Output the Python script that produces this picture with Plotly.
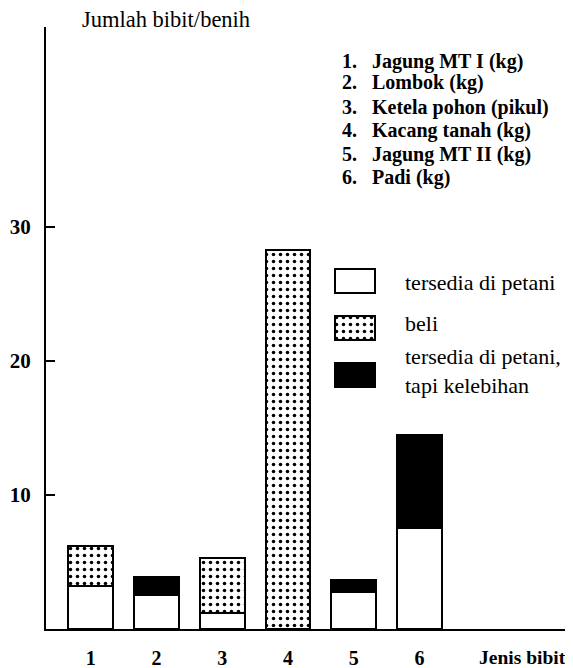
import plotly.graph_objects as go

# Data
categories = [1, 2, 3, 4, 5, 6]
tick_labels = ["1", "2", "3", "4", "5", "6"]
tersedia = [3.2, 2.5, 1.2, None, 2.75, 7.5]
beli = [3.0, None, 4.1, 28.3, None, None]
kelebihan = [None, 1.4, None, None, 0.9, 7.0]
crop_names = ["Jagung MT I (kg)", "Lombok (kg)", "Ketela pohon (pikul)",
              "Kacang tanah (kg)", "Jagung MT II (kg)", "Padi (kg)"]
legend_labels = ["tersedia di petani", "beli", "tersedia di petani,<br>tapi kelebihan"]
y_ticks = [10, 20, 30]

FONT = "Liberation Serif"
line = dict(color="black", width=2)
dots = dict(shape=".", fgcolor="black", bgcolor="white", size=7, solidity=0.2, fillmode="replace")

fig = go.Figure()
fig.add_trace(go.Bar(x=categories, y=tersedia, width=0.68, name="tersedia di petani",
                     marker=dict(color="white", line=line), showlegend=False))
fig.add_trace(go.Bar(x=categories, y=beli, width=0.68, name="beli",
                     marker=dict(color="white", line=line, pattern=dots), showlegend=False))
fig.add_trace(go.Bar(x=categories, y=kelebihan, width=0.68, name="tersedia di petani, tapi kelebihan",
                     marker=dict(color="black", line=line), showlegend=False))

# Legend swatches drawn as bars on a small auxiliary axis
swatch_styles = [dict(color="white", line=line),
                 dict(color="white", line=line, pattern=dots),
                 dict(color="black", line=line)]
for i, st in enumerate(swatch_styles):
    fig.add_trace(go.Bar(x=[1], y=[i], orientation="h", width=0.51,
                         xaxis="x2", yaxis="y2", showlegend=False, marker=st))

fig.update_layout(
    width=573, height=668,
    margin=dict(l=38, r=13, t=19, b=47),
    plot_bgcolor="white", paper_bgcolor="white",
    barmode="stack",
    font=dict(family=FONT, color="black", size=22),
    xaxis=dict(range=[0.32, 8.26], tickvals=categories, ticktext=tick_labels,
               showline=True, linecolor="black", linewidth=2, ticks="",
               showgrid=False, zeroline=False, ticklabelstandoff=10, automargin=False,
               tickfont=dict(family=FONT, size=20, color="black", weight="bold")),
    yaxis=dict(range=[0, 44.9], tickvals=y_ticks, showline=True, linecolor="black",
               linewidth=2, ticks="inside", ticklen=9, tickwidth=2, tickcolor="black",
               showgrid=False, zeroline=False, ticklabelstandoff=9, automargin=False,
               tickfont=dict(family=FONT, size=21, color="black", weight="bold")),
    xaxis2=dict(domain=[0.5498, 0.6341], range=[-0.05, 1.05], visible=False,
                anchor="y2", automargin=False),
    yaxis2=dict(domain=[0.3837, 0.6163], range=[2.5, -0.5], visible=False,
                anchor="x2", automargin=False),
)

ann = []
ann.append(dict(text="Jumlah bibit/benih", x=0.065, y=1.013, xref="paper", yref="paper",
                xanchor="left", yanchor="middle", showarrow=False, font=dict(size=22.5)))
ann.append(dict(text="Jenis bibit", x=1.0, y=-0.047, xref="paper", yref="paper",
                xanchor="right", yanchor="middle", showarrow=False,
                font=dict(size=19.5, weight="bold")))
list_y = [0.9419, 0.9070, 0.8671, 0.8289, 0.7874, 0.7492]
for i, (name, yy) in enumerate(zip(crop_names, list_y)):
    ann.append(dict(text=f"{i+1}.&nbsp;&nbsp;&nbsp;{name}", x=0.563, y=yy,
                    xref="paper", yref="paper",
                    xanchor="left", yanchor="middle", showarrow=False,
                    font=dict(size=20, weight="bold")))
leg_y = [0.5748, 0.5083, 0.4286]
for lab, yy in zip(legend_labels, leg_y):
    ann.append(dict(text=lab, x=0.683, y=yy, xref="paper", yref="paper",
                    xanchor="left", yanchor="middle", align="left", showarrow=False,
                    font=dict(size=22)))
fig.update_layout(annotations=ann)

fig.write_html("out.html")
